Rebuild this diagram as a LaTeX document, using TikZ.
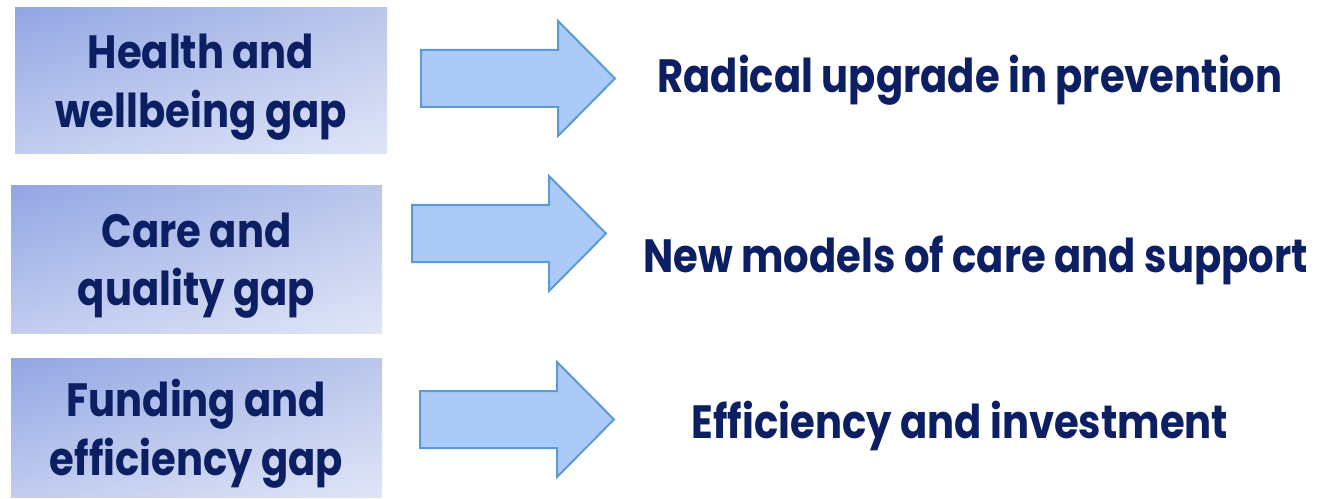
\documentclass[tikz,border=0pt]{standalone}
\usepackage{fontspec}
\setmainfont{Poppins}[FakeStretch=0.86]
\usepackage{tikz}
\usetikzlibrary{positioning, shadings}

\definecolor{gapnavy}{RGB}{11,31,98}
\definecolor{gapdark}{RGB}{146,166,228}
\definecolor{gapmidtop}{RGB}{186,198,235}
\definecolor{gapmidbot}{RGB}{193,204,239}
\definecolor{gaplight}{RGB}{224,229,247}
\definecolor{arrowfill}{RGB}{172,202,247}
\definecolor{arrowline}{RGB}{91,155,213}

\tikzset{
  gapbox/.style={rectangle, upper left=gapdark, upper right=gapmidtop,
    lower left=gapmidbot, lower right=gaplight},
  gaptext/.style={align=center, text=gapnavy,
    font=\fontsize{35}{44}\selectfont\bfseries},
  plantext/.style={anchor=base, text=gapnavy,
    font=\fontsize{35}{44}\selectfont\bfseries},
  blockarrow/.style={fill=arrowfill, draw=arrowline, line width=1.5pt, line join=miter}
}

\begin{document}
\begin{tikzpicture}[x=0.75pt, y=-0.75pt]
  \useasboundingbox (0,0) rectangle (1324,499);

  % gaps on the left
  \node[gapbox, minimum width=279pt, minimum height=109.5pt]
    (health) at (201,81) {};
  \node[gapbox, minimum width=278.25pt, minimum height=110.25pt]
    (care) at (196.5,259.5) {};
  \node[gapbox, minimum width=278.25pt, minimum height=104.25pt]
    (funding) at (196.5,427.5) {};
  \node[gaptext] (healthtxt) at ([yshift=-4.5pt]health.center) {Health and\\wellbeing gap};
  \node[gaptext] (caretxt) at ([yshift=-4.5pt]care.center) {Care and\\quality gap};
  \node[gaptext] (fundingtxt) at ([yshift=-4.5pt]funding.center) {Funding and\\efficiency gap};

  % block arrows
  \foreach \ax/\ay in {421/78.5, 412/233.5, 420/419.5}
    \draw[blockarrow] (\ax,\ay-28.5) -- (\ax+137,\ay-28.5) -- (\ax+137,\ay-57.5)
      -- (\ax+194,\ay) -- (\ax+137,\ay+57.5) -- (\ax+137,\ay+28.5)
      -- (\ax,\ay+28.5) -- cycle;

  % answers on the right
  \node[plantext] (prevention) at (970,93) {Radical upgrade in prevention};
  \node[plantext] (models) at (975.5,272) {New models of care and support};
  \node[plantext] (investment) at (960,438) {Efficiency and investment};
\end{tikzpicture}
\end{document}
